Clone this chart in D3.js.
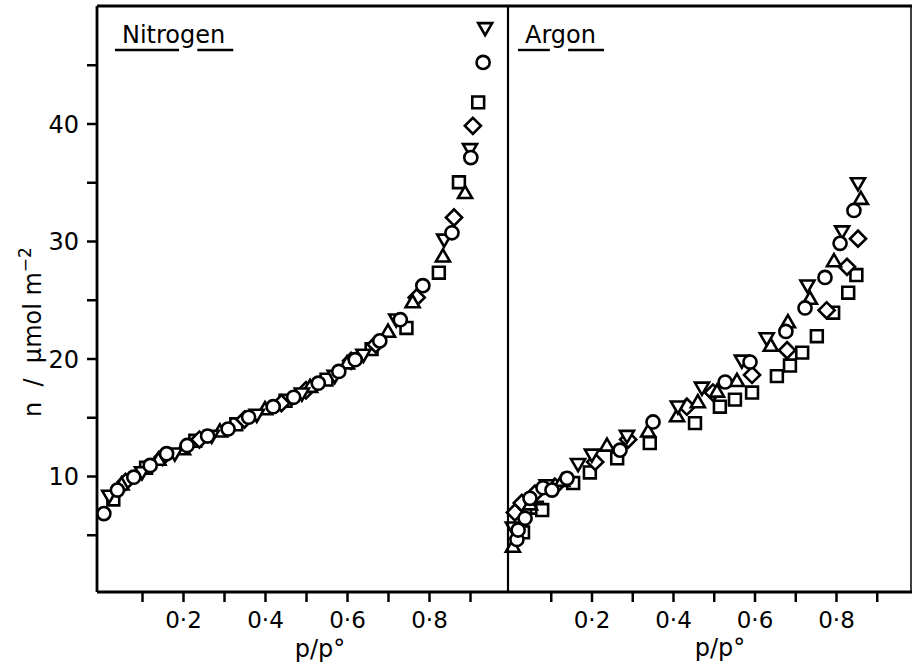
<!DOCTYPE html>
<html>
<head>
<meta charset="utf-8">
<script src="https://cdn.jsdelivr.net/npm/d3@7"></script>
<style>
  body { margin: 0; background: #fff; }
  svg { display: block; }
  text { font-family: "DejaVu Sans", sans-serif; fill: #000; }
</style>
</head>
<body>
<div id="chart"></div>
<script>
// size of the page
let svg_width = 913;
let svg_height = 670;

// ---- data ----
let panels = ['Nitrogen', 'Argon'];
let x_ticks = [0.1, 0.2, 0.3, 0.4, 0.5, 0.6, 0.7, 0.8, 0.9];
let x_labels = [0.2, 0.4, 0.6, 0.8];
let y_ticks = [5, 10, 15, 20, 25, 30, 35, 40, 45];
let y_labels = [10, 20, 30, 40];

// nitrogen, one array per symbol: [p/p°, n]
let n2_circle = [[0.007,6.8],[0.04,8.8],[0.08,9.9],[0.12,10.9],[0.16,11.9],[0.21,12.6],[0.26,13.4],[0.31,14.0],[0.36,15.0],[0.42,15.9],[0.47,16.7],[0.53,17.9],[0.58,18.9],[0.62,19.9],[0.68,21.5],[0.73,23.3],[0.785,26.2],[0.856,30.7],[0.902,37.1],[0.932,45.2]];
let n2_square = [[0.03,8.0],[0.11,10.7],[0.23,13.0],[0.33,14.4],[0.45,16.4],[0.55,18.2],[0.66,20.8],[0.745,22.6],[0.824,27.3],[0.873,35.0],[0.92,41.8]];
let n2_tri_up = [[0.05,9.2],[0.14,11.3],[0.2,12.2],[0.29,13.7],[0.4,15.6],[0.51,17.5],[0.6,19.5],[0.7,22.2],[0.76,24.7],[0.834,28.6],[0.888,34.0]];
let n2_tri_down = [[0.02,8.4],[0.1,10.4],[0.18,12.0],[0.27,13.5],[0.38,15.3],[0.49,17.1],[0.57,18.6],[0.64,20.4],[0.72,23.4],[0.837,30.2],[0.9,37.9],[0.937,48.2]];
let n2_diamond = [[0.06,9.5],[0.15,11.6],[0.24,13.1],[0.35,14.8],[0.44,16.2],[0.5,17.3],[0.61,19.8],[0.67,21.2],[0.77,25.2],[0.861,32.0],[0.907,39.8]];

// argon
let ar_circle = [[0.017,4.6],[0.02,5.4],[0.037,6.4],[0.049,8.1],[0.081,9.0],[0.103,8.8],[0.14,9.8],[0.27,12.2],[0.351,14.6],[0.528,18.0],[0.589,19.7],[0.677,22.3],[0.724,24.3],[0.773,26.9],[0.81,29.8],[0.844,32.6]];
let ar_square = [[0.032,5.2],[0.066,7.3],[0.079,7.1],[0.155,9.4],[0.196,10.3],[0.263,11.5],[0.343,12.8],[0.454,14.5],[0.515,15.9],[0.552,16.5],[0.594,17.1],[0.655,18.5],[0.687,19.4],[0.717,20.5],[0.753,21.9],[0.793,23.9],[0.83,25.6],[0.85,27.1]];
let ar_tri_up = [[0.007,3.9],[0.049,7.5],[0.128,9.5],[0.238,12.5],[0.339,13.7],[0.41,15.0],[0.461,16.2],[0.508,17.1],[0.557,18.0],[0.64,21.0],[0.682,23.0],[0.736,25.0],[0.795,28.2],[0.861,33.5]];
let ar_tri_down = [[0.007,5.7],[0.09,9.3],[0.167,11.1],[0.201,11.9],[0.287,13.5],[0.412,16.0],[0.471,17.6],[0.569,19.9],[0.63,21.8],[0.73,26.3],[0.815,30.9],[0.854,35.0]];
let ar_diamond = [[0.012,6.9],[0.029,7.7],[0.061,8.5],[0.11,9.1],[0.209,11.2],[0.29,13.1],[0.434,15.9],[0.498,17.1],[0.594,18.6],[0.68,20.7],[0.777,24.1],[0.827,27.8],[0.854,30.2]];

// frame edges
let frame_left = 97, frame_mid = 508, frame_right = 911;
let frame_top = 6, frame_bottom = 592;

// scales
let y_scale = d3.scaleLinear().domain([0, 50]).range([593.5, 6]);
let x_scales = [
    d3.scaleLinear().domain([0, 1]).range([101, 511]),
    d3.scaleLinear().domain([0, 1]).range([510, 917.5])
];

// symbol shapes
let sym = {
    circle:   { type: d3.symbolCircle,   size: 135, rot: 0 },
    square:   { type: d3.symbolSquare,   size: 140, rot: 0 },
    triUp:    { type: d3.symbolTriangle, size: 85,  rot: 0 },
    triDown:  { type: d3.symbolTriangle, size: 85,  rot: 180 },
    diamond:  { type: d3.symbolSquare,   size: 130, rot: 45 }
};

let series = [
    [ {d: n2_square, s: 'square'}, {d: n2_diamond, s: 'diamond'}, {d: n2_tri_up, s: 'triUp'}, {d: n2_tri_down, s: 'triDown'}, {d: n2_circle, s: 'circle'} ],
    [ {d: ar_square, s: 'square'}, {d: ar_diamond, s: 'diamond'}, {d: ar_tri_up, s: 'triUp'}, {d: ar_tri_down, s: 'triDown'}, {d: ar_circle, s: 'circle'} ]
];

let svg = d3.select('#chart')
            .append('svg')
            .attr('width', svg_width)
            .attr('height', svg_height);

// ================================================
function drawAxes() {
    // y axis, left panel only
    let yAxis = d3.axisLeft(y_scale)
                  .tickValues(y_ticks)
                  .tickSize(10)
                  .tickPadding(8)
                  .tickFormat(function(d){ return y_labels.includes(d) ? d : ''; });
    let gy = svg.append('g')
                .attr('transform', 'translate(' + frame_left + ',0)')
                .call(yAxis);
    gy.select('.domain').remove();
    gy.selectAll('line').attr('stroke-width', 2.5);
    gy.selectAll('text').attr('font-size', 24).attr('dy', '0.36em');

    // x axes, one per panel
    x_scales.forEach(function(xs, i) {
        let xAxis = d3.axisBottom(xs)
                      .tickValues(x_ticks)
                      .tickSize(10)
                      .tickPadding(10)
                      .tickFormat(function(d){ return x_labels.includes(d) ? d3.format('.1f')(d).replace('.', '\u00B7') : ''; });
        let gx = svg.append('g')
                    .attr('transform', 'translate(0,' + frame_bottom + ')')
                    .call(xAxis);
        gx.select('.domain').remove();
        gx.selectAll('line').attr('stroke-width', 2.5);
        gx.selectAll('text').attr('font-size', 23);
    });

    // frame
    let frame = svg.append('g').attr('stroke', '#000').attr('stroke-width', 2.8).attr('fill', 'none');
    frame.append('line').attr('x1', frame_left).attr('x2', frame_right + 1).attr('y1', frame_top).attr('y2', frame_top);
    frame.append('line').attr('x1', frame_left).attr('x2', frame_right + 1).attr('y1', frame_bottom).attr('y2', frame_bottom);
    frame.append('line').attr('x1', frame_left).attr('x2', frame_left).attr('y1', frame_top).attr('y2', frame_bottom);
    frame.append('line').attr('x1', frame_mid).attr('x2', frame_mid).attr('y1', frame_top).attr('y2', frame_bottom).attr('stroke-width', 2.2);
    frame.append('line').attr('x1', frame_right).attr('x2', frame_right).attr('y1', frame_top).attr('y2', frame_bottom).attr('stroke-width', 1.5);

    // axis titles
    svg.append('text')
       .attr('transform', 'translate(41,332) rotate(-90)')
       .attr('text-anchor', 'middle')
       .attr('font-size', 24)
       .html('n &#160;/ &#160;\u03BCmol m<tspan dy="-10" font-size="17">\u22122</tspan>');

    [[320, 657], [720, 656]].forEach(function(p) {
        svg.append('text')
           .attr('x', p[0])
           .attr('y', p[1])
           .attr('text-anchor', 'middle')
           .attr('font-size', 24)
           .text('p/p\u00B0');
    });
}

function drawTitles() {
    let pos = [[122, 43], [525, 43]];
    panels.forEach(function(name, i) {
        let t = svg.append('text')
                   .attr('x', pos[i][0])
                   .attr('y', pos[i][1])
                   .attr('font-size', 24)
                   .text(name);
        let node = t.node();
        let gi = name.indexOf('g');
        let gStart = node.getStartPositionOfChar(gi).x;
        let gEnd = node.getEndPositionOfChar(gi).x;
        let x0 = pos[i][0] - 7;
        let x1 = pos[i][0] + node.getComputedTextLength() + 8;
        let uy = pos[i][1] + 7;
        svg.append('line').attr('x1', x0).attr('x2', gStart - 1).attr('y1', uy).attr('y2', uy)
           .attr('stroke', '#000').attr('stroke-width', 2.4);
        svg.append('line').attr('x1', gEnd + 2).attr('x2', x1).attr('y1', uy).attr('y2', uy)
           .attr('stroke', '#000').attr('stroke-width', 2.4);
    });
}

function drawPoints() {
    series.forEach(function(list, i) {
        let xs = x_scales[i];
        list.forEach(function(ser) {
            let st = sym[ser.s];
            let shape = d3.symbol().type(st.type).size(st.size);
            svg.append('g')
               .selectAll('path')
               .data(ser.d)
               .enter()
               .append('path')
               .attr('d', shape)
               .attr('transform', function(d){ return 'translate(' + xs(d[0]) + ',' + y_scale(d[1]) + ') rotate(' + st.rot + ')'; })
               .attr('fill', '#fff')
               .attr('stroke', '#000')
               .attr('stroke-width', 2.6);
        });
    });
}

drawPoints();
drawAxes();
drawTitles();
</script>
</body>
</html>
